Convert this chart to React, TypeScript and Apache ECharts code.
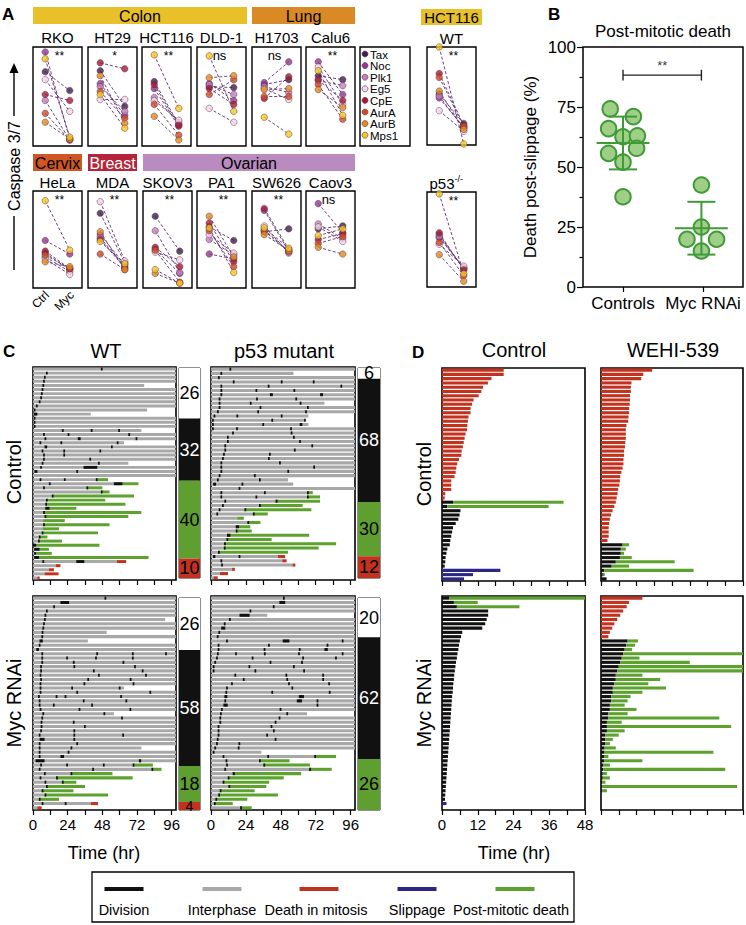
import React, { useEffect, useRef } from 'react';
import * as echarts from 'echarts';

const FONT = '"Liberation Sans", Arial, Helvetica, sans-serif';

// ---------------- Panel A data ----------------
const DRUGS = ['Tax', 'Noc', 'Plk1', 'Eg5', 'CpE', 'AurA', 'AurB', 'Mps1'];
const DRUG_COLORS = ['#3d1f4e', '#8e3b8e', '#c47fc0', '#f2d7ea', '#a51a35', '#d04a26', '#e38b1f', '#f6c81f'];
const A_LINES = ['RKO', 'HT29', 'HCT116', 'DLD-1', 'H1703', 'Calu6', 'WT', 'HeLa', 'MDA', 'SKOV3', 'PA1', 'SW626', 'Caov3', 'p53'];
const A_SIG = ['**', '*', '**', 'ns', 'ns', '**', '**', '**', '**', '**', '**', '**', 'ns', '**'];
// values per drug order Tax, Noc, Plk1, Eg5, CpE, AurA, AurB, Mps1 (relative caspase 3/7)
const A_CTRL = [
  [0.75, 0.95, 0.46, 0.67, 0.52, 0.33, 0.24, 0.88],
  [0.76, 0.63, 0.60, 0.47, 0.84, 0.55, 0.71, 0.52],
  [0.65, 0.58, 0.49, 0.46, 0.62, 0.42, 0.30, 0.92],
  [0.60, 0.63, 0.62, 0.38, 0.58, 0.52, 0.69, 0.91],
  [0.62, 0.64, 0.60, 0.58, 0.48, 0.50, 0.57, 0.29],
  [0.71, 0.85, 0.66, 0.80, 0.67, 0.62, 0.57, 0.76],
  [0.52, 0.48, 0.50, 0.35, 0.73, 0.69, 0.55, 1.00],
  [0.36, 0.49, 0.32, 0.30, 0.38, 0.34, 0.27, 0.90],
  [0.77, 0.55, 0.52, 0.89, 0.50, 0.35, 0.58, 0.48],
  [0.74, 0.40, 0.59, 0.37, 0.42, 0.39, 0.15, 0.19],
  [0.63, 0.35, 0.50, 0.55, 0.67, 0.59, 0.74, 0.62],
  [0.58, 0.80, 0.60, 0.64, 0.82, 0.59, 0.55, 0.62],
  [0.61, 0.87, 0.66, 0.63, 0.50, 0.46, 0.42, 0.54],
  [0.52, 0.55, 0.53, 0.45, 0.57, 0.47, 0.34, 0.98],
];
const A_MYC = [
  [0.56, 0.07, 0.06, 0.35, 0.46, 0.06, 0.07, 0.09],
  [0.40, 0.31, 0.35, 0.47, 0.78, 0.28, 0.23, 0.18],
  [0.22, 0.20, 0.24, 0.26, 0.21, 0.11, 0.06, 0.38],
  [0.59, 0.46, 0.52, 0.24, 0.42, 0.67, 0.71, 0.35],
  [0.67, 0.85, 0.54, 0.47, 0.70, 0.50, 0.58, 0.12],
  [0.67, 0.52, 0.61, 0.42, 0.46, 0.27, 0.39, 0.31],
  [0.22, 0.18, 0.17, 0.14, 0.20, 0.19, 0.16, 0.01],
  [0.19, 0.35, 0.17, 0.14, 0.20, 0.20, 0.22, 0.39],
  [0.26, 0.24, 0.22, 0.28, 0.21, 0.19, 0.19, 0.25],
  [0.38, 0.15, 0.16, 0.29, 0.22, 0.06, 0.05, 0.05],
  [0.49, 0.30, 0.34, 0.36, 0.27, 0.22, 0.32, 0.16],
  [0.61, 0.38, 0.38, 0.36, 0.40, 0.37, 0.39, 0.41],
  [0.64, 0.57, 0.51, 0.48, 0.56, 0.53, 0.35, 0.61],
  [0.20, 0.19, 0.20, 0.22, 0.18, 0.12, 0.06, 0.14],
];

// ---------------- Panel B data ----------------
const B_CATEGORIES = ['Controls', 'Myc RNAi'];
const B_CONTROLS = [[0.34, 74.2], [0.63, 71], [0.32, 66], [0.5, 62.6], [0.68, 63], [0.32, 55.7], [0.67, 57.8], [0.5, 52], [0.5, 37.6]];
const B_MYC = [[1.48, 42.5], [1.48, 25], [1.3, 19.9], [1.67, 19.9], [1.48, 15]];
const B_MEAN = [60, 24.5];
const B_SD_LOW = [49, 13.5];
const B_SD_HIGH = [71, 35.5];
const B_TICKS = [0, 25, 50, 75, 100];

// ---------------- Panel C data ----------------
// cell: [interphase end (h), fate (0 none, 1 post-mitotic death, 2 death in mitosis), fate end (h), division marks]
const C_WT_CTRL: any[] = [
  [99, 0, 0, [47]], [99, 0, 0, [9]], [99, 0, 0, [7.6]], [99, 0, 0, [7]], [77, 0, 0, [6.5]],
  [99, 0, 0, [6]], [99, 0, 0, [5.5]], [99, 0, 0, [5]], [99, 0, 0, [4]], [99, 0, 0, [2]],
  [79, 0, 0, [0.5]], [40, 0, 0, [[0.5, 2.5]]], [99, 0, 0, [0.5]], [99, 0, 0, [0.5]], [99, 0, 0, [0.5]],
  [75, 0, 0, [20, 40, 59]], [99, 0, 0, [7, 24, 66]], [99, 0, 0, [8, [31, 2], 71]], [63, 0, 0, [4.5, 19, 58]], [99, 0, 0, [[8, 1.8], 54]],
  [99, 0, 0, [6, 21, 46]], [99, 0, 0, [7, 21]], [99, 0, 0, [7, 39]], [66, 0, 0, [6, 45]], [99, 0, 0, [5, [35, 9.5]]],
  [99, 0, 0, [[1, 2], 30]], [99, 0, 0, []],
  [44, 1, 52, [4.6, 21.4, 43.5]], [62, 1, 73, [11, [56, 6]]], [37, 1, 48, [7, 37]], [47, 1, 53, [47]], [13, 1, 70, [13]],
  [9, 1, 50, [9]], [8.5, 1, 64, [8.5]], [11.5, 1, 30, [[8.5, 3]]], [7, 1, 75, [7]], [8, 1, 66, [8]],
  [7, 1, 22, []], [7, 1, 53, [7]], [6.5, 1, 18, []], [6, 1, 45, [6]], [4, 1, 10, [4]],
  [4.6, 1, 20, [[3.5, 1.2]]], [2, 1, 46, [[0, 2.2]]], [4.6, 1, 11, [[0.8, 3.8]]], [2, 1, 13, [0.8]], [4, 1, 80, [[0.8, 3.4]]],
  [58, 2, 64.5, [6.5, [30, 5.5]]], [15.7, 2, 19, []], [11, 2, 14.5, []], [8, 2, 17.7, []], [3, 2, 4.6, []],
];
const C_P53_CTRL: any[] = [
  [99, 0, 0, [12.7]], [56.7, 0, 0, [6.5]], [99, 0, 0, [4.8]], [99, 0, 0, [15, 48, 70]], [99, 0, 0, [6.5, 39, 89]],
  [99, 0, 0, [6.5, 30.6, 56.7]], [99, 0, 0, [6.5, [40.5, 2], [75, 2]]], [99, 0, 0, [5.3, 31, 58]], [78, 0, 0, [5.3, 26.7, 61]], [99, 0, 0, [5.3, 33.4, 66]],
  [99, 0, 0, [4.1, 31.8, 64.7]], [67, 0, 0, [1.8, 17.5, 48]], [64, 0, 0, [0.7, 41.5, 64]], [67, 0, 0, [0.7, 35.3, [61, 1.8]]], [99, 0, 0, [0.7, 17.3, 54.4]],
  [99, 0, 0, [14.5, 54.8]], [99, 0, 0, [11, 56.4]], [99, 0, 0, [11, 60.6]], [99, 0, 0, [9.2, 69]], [99, 0, 0, [9.2, 57]],
  [99, 0, 0, [8.3, 39.9]], [99, 0, 0, [7.6, 39.2]], [99, 0, 0, [6.5, 46.8]], [99, 0, 0, [6.5, 70.3]], [99, 0, 0, [6.5, 52.5]],
  [99, 0, 0, [5.3, 29.5]], [53, 0, 0, [4.1, 33]], [56.5, 0, 0, [[1.5, 2], 21]], [99, 0, 0, [19]],
  [66, 1, 70, [6.5, 36.4, 66]], [66, 1, 75, [6.5, 30.6, 66]], [44, 1, 75, [9.2, 44.5]], [33, 1, 63, [7.6, 33]], [23, 1, 69, [5.3, 23]],
  [29, 1, 39, [3.7, 28.8]], [18, 1, 22.6, []], [25, 1, 34, [25]], [19, 1, 27, [[17, 2.3]]], [17, 1, 28, [17]],
  [13, 1, 67.5, [[11, 2.3]]], [10.6, 1, 41.7, [10.6]], [9, 1, 86, [9]], [8.8, 1, 74, [8.8]], [4.8, 1, 53, [4.8]],
  [46, 2, 51, [[1.4, 1.6], 19]], [49, 2, 52, [6.5]], [56, 2, 58, [7]], [14.5, 2, 16.4, []], [6, 2, 11.7, []], [1.8, 2, 4.6, []],
];
const C_WT_MYC: any[] = [
  [99, 0, 0, [49.5]], [99, 0, 0, [[19, 6]]], [99, 0, 0, [14]], [99, 0, 0, [9]], [99, 0, 0, [8]],
  [91.5, 0, 0, [7.6]], [99, 0, 0, [7]], [99, 0, 0, [6.5]], [51, 0, 0, [6]], [99, 0, 0, [5.8]],
  [38, 0, 0, [[4.5, 2.3]]], [99, 0, 0, [4]], [99, 0, 0, [[2.3, 1.8]]], [99, 0, 0, [5.8, 43.8, 68.5, 91.5]], [99, 0, 0, [5.8, 23, 43, 68.5]],
  [99, 0, 0, [5.8, 27.6, 62]], [99, 0, 0, [5, 28, 70]], [99, 0, 0, [5, 41.5, 75.3]], [99, 0, 0, [4.6, 45, 77.6]], [99, 0, 0, [5, 37.6, 67]],
  [99, 0, 0, [4.6, 35, 69]], [63, 0, 0, [4.6, 26.5, 59.4]], [99, 0, 0, [4.6, 30, 80.6]], [99, 0, 0, [3.5, 15.7, 21.9, 60.4]], [99, 0, 0, [4, 34.5, 64]],
  [99, 0, 0, [4, 13.8, 40.3]], [99, 0, 0, [4.6, 31.6, 66.8]], [56, 0, 0, [6.5, 48.8]], [99, 0, 0, [5.8, 61]], [99, 0, 0, [5.3, 27.6]],
  [99, 0, 0, [5.3, 35.3]], [99, 0, 0, [5, 28]], [99, 0, 0, [4, 28, 61.8]], [99, 0, 0, [[4.6, 3.4], 28]], [99, 0, 0, [4, 30]],
  [75, 0, 0, [4, 26]], [99, 0, 0, [4, 24]], [99, 0, 0, [4, [19, 2.5]]], [99, 0, 0, [[1.8, 6.2], [73.3, 1.6]]],
  [69, 1, 83, [5, 23, 48.4, 69]], [82, 1, 89, [4, 41, 82]], [26, 1, 55, [7.6, 26]], [16, 1, 69, [4.6, 16]],
  [20, 1, 30, [8, 20]], [9, 1, 36, [9]], [6, 1, 28, [6]], [8, 1, 52, [8]], [4, 1, 18, [4]],
  [40, 2, 45, [6, 22]], [3, 2, 6, []],
];
const C_P53_MYC: any[] = [
  [99, 0, 0, [49.5]], [99, 0, 0, [[47, 4]]], [99, 0, 0, [42.5]], [99, 0, 0, [26.5]], [38.7, 0, 0, [[19.6, 6.9]]],
  [99, 0, 0, [12.4]], [99, 0, 0, [8.8]], [99, 0, 0, [[7, 2.8]]], [99, 0, 0, [5.1]], [99, 0, 0, [4]],
  [99, 0, 0, [10.4, [49.3, 4.6], 89.9]], [99, 0, 0, [4.6, 39.2, 79.5]], [99, 0, 0, [4.6, 36.2, 60.4, [78, 2.3]]], [99, 0, 0, [4.1, 16.6, 36.4, 59.9, 89.9]], [99, 0, 0, [3.5, 28, 62.7, 85.3]],
  [99, 0, 0, [2.3, 40.3, 62]], [99, 0, 0, [1.2, 25.8, 56.4]], [99, 0, 0, [1.2, 29.9, 63.4]], [99, 0, 0, [16.1, 51.2, 76.5]], [99, 0, 0, [21.9, 51.8, 76.5]],
  [99, 0, 0, [13.8, 53, 80.6]], [99, 0, 0, [10.4, 55.3]], [99, 0, 0, [9.9, 41.5, 81]], [99, 0, 0, [[9.2, 2], [60.4, 3.5]]], [99, 0, 0, [9.2, [59, 3.5], 72.6]],
  [99, 0, 0, [[8.5, 3], 72.6]], [99, 0, 0, [6.9, 47.2]], [66, 0, 0, [6.2, 51.8]], [99, 0, 0, [5.8, 46.5]], [99, 0, 0, [5.8, 43.8]],
  [99, 0, 0, [4.6, 41]], [99, 0, 0, [4.6, 42.6]], [99, 0, 0, [4.6, 38]], [99, 0, 0, [4, 43.8]], [99, 0, 0, [3.5, 18.9]],
  [99, 0, 0, [2.3, 18.4]], [34.6, 0, 0, [1.2]],
  [71, 1, 86, [8, 38.7, 71]], [33, 1, 54, [10, 33]], [36, 1, 68, [10.4, 36]], [67.5, 1, 83, [9.2, 67.5]], [16, 1, 62, [[14.9, 1.5]]],
  [11.5, 1, 50, [11.5]], [8, 1, 40, [8]], [12, 1, 38, [12]], [6, 1, 30, [6]], [5, 1, 46, [5]],
  [3, 1, 25, [3]], [2, 1, 15, [2]], [20, 1, 28, [20]],
];
const FRAC_WT_CTRL = [26, 32, 40, 10];
const FRAC_P53_CTRL = [6, 68, 30, 12];
const FRAC_WT_MYC = [26, 58, 18, 4];
const FRAC_P53_MYC = [20, 62, 26, 0];

// ---------------- Panel D data ----------------
// [kind (1 division, 3 death in mitosis, 4 slippage), mitosis end (h), post-mitotic death end (h)]
const D_CTRL_CTRL: any[] = [
  [3, 20.7], [3, 20.7], [3, 16.6], [3, 15.4], [3, 13.8], [3, 13.2], [3, 12.3], [3, 10.6], [3, 10.1], [3, 9.6],
  [3, 9.6], [3, 8.9], [3, 8.7], [3, 8.5], [3, 8.4], [3, 7.9], [3, 7.6], [3, 7.3], [3, 7.0], [3, 6.6],
  [3, 6.5], [3, 5.7], [3, 5.1], [3, 4.8], [3, 4.6], [3, 4.2], [3, 3.1], [3, 3.1], [3, 3.1], [3, 1.1], [3, 0.9],
  [1, 3.7, 40.8], [1, 1.8, 35.8],
  [1, 6.2], [1, 5.9], [1, 5.5], [1, 4.6], [1, 3.7], [1, 3.4], [1, 3.1], [1, 2.8], [1, 2.6], [1, 1.8],
  [1, 1.5], [1, 1.2], [1, 1.1], [1, 0.9],
  [4, 19.6], [4, 10.4], [4, 7.4],
];
const D_WEHI_CTRL: any[] = [
  [3, 17.3], [3, 14.3], [3, 13.6], [3, 10.3], [3, 10.1], [3, 10.1], [3, 9.8], [3, 9.8], [3, 9.7], [3, 9.5],
  [3, 9.5], [3, 9.3], [3, 9.2], [3, 8.6], [3, 8.4], [3, 8.4], [3, 8.4], [3, 8.2], [3, 8.1], [3, 7.8],
  [3, 7.8], [3, 7.6], [3, 7.6], [3, 7.3], [3, 6.9], [3, 6.5], [3, 6.4], [3, 6.2], [3, 5.8], [3, 5.6],
  [3, 5.3], [3, 5.0], [3, 4.5], [3, 3.9], [3, 3.4], [3, 3.0], [3, 2.8], [3, 2.6], [3, 2.6], [3, 2.6], [3, 2.2],
  [1, 7.3, 9.5], [1, 6.7, 8.4], [1, 6.7, 7.8], [1, 6.4, 10.4], [1, 5.0, 24.9], [1, 3.6, 9.5], [1, 1.1, 31.3], [1, 0.6, 1.3], [1, 1.9],
];
const D_CTRL_MYC: any[] = [
  [1, 2.5, 48], [1, 4, 12], [1, 5, 26], [1, 15.5], [1, 15.5], [1, 15], [1, 14.5], [1, 13.5], [1, 6.8], [1, 6.4],
  [1, 6], [1, 5.7], [1, 5.5], [1, 5.2], [1, 5], [1, 4.7], [1, 4.5], [1, 4.3], [1, 4.1], [1, 4],
  [1, 3.8], [1, 3.7], [1, 3.6], [1, 3.4], [1, 3.3], [1, 3.2], [1, 3.1], [1, 3], [1, 2.9], [1, 2.8],
  [1, 2.7], [1, 2.6], [1, 2.5], [1, 2.4], [1, 2.3], [1, 2.2], [1, 2.1], [1, 2], [1, 1.9], [1, 1.8],
  [1, 1.7], [1, 1.6], [1, 1.5], [1, 1.4], [1, 1.3], [1, 1.2], [1, 1.1], [1, 1], [4, 1.5],
];
const D_WEHI_MYC: any[] = [
  [3, 14], [3, 9.5], [3, 8.7], [3, 7.5], [3, 6.5], [3, 5.5], [3, 4.5], [3, 3.8], [3, 3], [3, 2.5],
  [1, 9, 12.5], [1, 8.5, 11.5], [1, 8, 10.5], [1, 7.5, 48], [1, 7, 13], [1, 6.5, 30], [1, 6, 48], [1, 5.5, 48], [1, 5, 14], [1, 5, 20],
  [1, 4.5, 16], [1, 4, 22], [1, 4, 14], [1, 3.5, 10], [1, 3.5, 9], [1, 3, 8], [1, 3, 12], [1, 2.5, 9], [1, 2.5, 40], [1, 2, 7],
  [1, 2, 44], [1, 2, 8], [1, 1.5, 6], [1, 1.5, 4], [1, 1.5, 3], [1, 1.2, 5], [1, 1.2, 38], [1, 1, 2.5], [1, 1, 14], [1, 0.8, 3],
  [1, 0.8, 42], [1, 0.6, 2], [1, 0.6, 3], [1, 0.5, 1.5], [1, 0.5, 46], [1, 0.4, 2],
];

const KIND_COLORS = ['#a8a8a8', '#111111', '#5da22f', '#c2321f', '#2c2787'];
const C_TICKS = [0, 12, 24, 36, 48, 60, 72, 84, 96];
const C_LABELS = [0, 24, 48, 72, 96];
const D_TICKS = [0, 6, 12, 18, 24, 30, 36, 42, 48];
const D_LABELS = [0, 12, 24, 36, 48];

const LEGEND_ITEMS = ['Division', 'Interphase', 'Death in mitosis', 'Slippage', 'Post-mitotic death'];
const LEGEND_KINDS = [1, 0, 3, 4, 2];

function buildC(cells: any[]) {
  const base: number[][] = [];
  const marks: number[][] = [];
  cells.forEach((c, i) => {
    const [ge, fate, fe, mk] = c;
    base.push([i, 0, ge, 0]);
    if (fate) base.push([i, ge, fe, fate === 1 ? 2 : 3]);
    (mk as any[]).forEach((m) => {
      const s = Array.isArray(m) ? m[0] : m;
      const d = Array.isArray(m) ? m[1] : 1.2;
      marks.push([i, s, s + d, 1]);
    });
  });
  return base.concat(marks);
}

function buildD(cells: any[]) {
  const out: number[][] = [];
  cells.forEach((c, i) => {
    out.push([i, 0, c[1], c[0]]);
    if (c[2] !== undefined) out.push([i, c[1], c[2], 2]);
  });
  return out;
}

const renderTimeline = (params: any, api: any) => {
  const row = api.value(0);
  const s = api.value(1);
  const e = api.value(2);
  const k = api.value(3);
  const a = api.coord([s, row]);
  const b = api.coord([e, row]);
  const h = api.size([0, 1])[1] * 0.72;
  return {
    type: 'rect',
    shape: { x: a[0], y: a[1] - h / 2, width: Math.max(b[0] - a[0], 1.3), height: h },
    style: { fill: KIND_COLORS[k] },
  };
};

function buildOption() {
  const grid: any[] = [];
  const xAxis: any[] = [];
  const yAxis: any[] = [];
  const series: any[] = [];
  const graphic: any[] = [];

  const addGrid = (r: number[], xa: any, ya: any, g: any = {}) => {
    const i = grid.length;
    grid.push({ left: r[0], top: r[1], width: r[2], height: r[3], show: true, borderColor: '#000', borderWidth: 1.2, backgroundColor: 'transparent', ...g });
    xAxis.push({ gridIndex: i, ...xa });
    yAxis.push({ gridIndex: i, ...ya });
    return i;
  };
  const txt = (x: number, y: number, text: string, size: number, o: any = {}) => {
    graphic.push({
      type: 'text', x, y, rotation: o.rot || 0, z: 100,
      style: {
        text, fill: o.color || '#000', fontSize: size, fontFamily: FONT, fontWeight: o.weight || 'normal',
        align: o.align || 'center', verticalAlign: o.va || 'middle', textAlign: o.align || 'center', textVerticalAlign: o.va || 'middle',
      },
    });
  };
  const rect = (x: number, y: number, w: number, h: number, fill: string, stroke?: string, lw = 1) => {
    graphic.push({ type: 'rect', shape: { x, y, width: w, height: h }, style: { fill, stroke: stroke || null, lineWidth: lw }, z: 90 });
  };
  const line = (x1: number, y1: number, x2: number, y2: number, color = '#000', lw = 1.3) => {
    graphic.push({ type: 'line', shape: { x1, y1, x2, y2 }, style: { stroke: color, lineWidth: lw }, z: 90 });
  };

  // ---------- Panel A ----------
  txt(2, 14, 'A', 17, { weight: 'bold', align: 'left' });
  const tissue = [
    ['Colon', 33, 7, 214, 17, '#e8c029', '#000'],
    ['Lung', 252, 7, 103, 17, '#d98a24', '#000'],
    ['HCT116', 421, 9, 61, 16, '#e8c029', '#000'],
    ['Cervix', 33, 154, 49, 17, '#cf5723', '#000'],
    ['Breast', 88, 154, 49, 17, '#b5243a', '#fff'],
    ['Ovarian', 143, 154, 212, 17, '#b98bbf', '#000'],
  ];
  tissue.forEach((t: any) => {
    rect(t[1], t[2], t[3], t[4], t[5]);
    txt(t[1] + t[3] / 2, t[2] + t[4] / 2 + 0.5, t[0], t[0] === 'HCT116' ? 15 : 16, { color: t[6] });
  });
  const A_RECTS = [
    [33, 47, 49, 99], [88, 47, 49, 99], [142, 47, 49, 99], [197, 47, 49, 99], [252, 47, 49, 99], [306, 47, 49, 99], [427, 47, 49, 98],
    [33, 191, 49, 97], [88, 191, 49, 97], [143, 191, 49, 97], [197, 191, 49, 97], [252, 191, 49, 97], [306, 191, 49, 97], [427, 192, 49, 95],
  ];
  A_LINES.forEach((name, p) => {
    const r = A_RECTS[p];
    const gi = addGrid(r, { type: 'value', min: -0.5, max: 1.5, show: false }, { type: 'value', min: 0, max: 1, show: false }, { borderWidth: 1.4 });
    DRUGS.forEach((d, di) => {
      series.push({
        type: 'line', xAxisIndex: gi, yAxisIndex: gi, data: [[0, A_CTRL[p][di]], [1, A_MYC[p][di]]],
        symbol: 'none', clip: false, silent: true, z: 3,
        lineStyle: { color: '#5b2c6f', width: 0.9, type: [3, 2] },
      });
    });
    const pts: any[] = [];
    DRUGS.forEach((d, di) => {
      pts.push({ value: [0, A_CTRL[p][di]], itemStyle: { color: DRUG_COLORS[di] } });
      pts.push({ value: [1, A_MYC[p][di]], itemStyle: { color: DRUG_COLORS[di] } });
    });
    series.push({
      type: 'scatter', xAxisIndex: gi, yAxisIndex: gi, data: pts, symbolSize: 6.5, clip: false, silent: true, z: 4,
      itemStyle: { borderColor: '#5a2f44', borderWidth: 0.6 },
    });
    const cx = r[0] + r[2] / 2;
    const top = r[1] < 100;
    if (name === 'p53') {
      txt(cx + 3, 183, 'p53', 15, { align: 'right' });
      txt(cx + 3, 179, '-/-', 9, { align: 'left' });
    } else {
      txt(cx, top ? (name === 'WT' ? 38 : 37) : 182, name, 15);
    }
    const sig = A_SIG[p];
    txt(cx + (sig === 'ns' ? -2 : 2), r[1] + (sig === 'ns' ? 8 : 9), sig, sig === 'ns' ? 13 : 12);
  });
  // legend of drugs
  rect(360, 47, 50, 99, 'none', '#000', 1.4);
  DRUGS.forEach((d, i) => {
    const y = 54 + i * 11.6;
    graphic.push({ type: 'circle', shape: { cx: 365, cy: y, r: 3 }, style: { fill: DRUG_COLORS[i], stroke: '#5a2f44', lineWidth: 0.6 }, z: 95 });
    txt(370, y + 0.5, d, 11.5, { align: 'left' });
  });
  // caspase axis label
  graphic.push({ type: 'polygon', shape: { points: [[14, 63], [9.5, 73], [18.5, 73]] }, style: { fill: '#000' }, z: 90 });
  line(14, 72, 14, 116, '#000', 1.4);
  txt(14, 166, 'Caspase 3/7', 16, { rot: Math.PI / 2 });
  line(14, 216, 14, 270, '#000', 1.4);
  txt(47, 293, 'Ctrl', 12, { rot: Math.PI / 4, align: 'right' });
  txt(72, 293, 'Myc', 12, { rot: Math.PI / 4, align: 'right' });

  // ---------- Panel B ----------
  txt(548, 14, 'B', 17, { weight: 'bold', align: 'left' });
  txt(663, 31, 'Post-mitotic death', 17);
  const gb = addGrid([583, 47, 160, 240],
    {
      type: 'value', min: 0, max: 2, axisLine: { show: false, onZero: false }, splitLine: { show: false },
      axisTick: { show: true, customValues: [0.5, 1.5], length: 5, lineStyle: { color: '#000', width: 1.2 } },
      axisLabel: { customValues: [0.5, 1.5], formatter: (v: number) => (v < 1 ? B_CATEGORIES[0] : B_CATEGORIES[1]), fontSize: 17, color: '#000', fontFamily: FONT, margin: 8 },
    },
    {
      type: 'value', min: 0, max: 100, interval: 25, axisLine: { show: false, onZero: false }, splitLine: { show: false },
      axisTick: { show: true, length: 6, lineStyle: { color: '#000', width: 1.2 }, customValues: B_TICKS },
      minorTick: { show: true, splitNumber: 2, length: 3.5, lineStyle: { color: '#000', width: 1.2 } },
      axisLabel: { fontSize: 17, color: '#000', fontFamily: FONT, margin: 7 },
      name: 'Death post-slippage (%)', nameLocation: 'middle', nameGap: 44, nameTextStyle: { fontSize: 17, color: '#000', fontFamily: FONT },
    },
    { borderWidth: 1.5 });
  series.push({
    type: 'scatter', xAxisIndex: gb, yAxisIndex: gb, data: B_CONTROLS.concat(B_MYC), symbolSize: 15.5, z: 3, silent: true,
    itemStyle: { color: '#9fcf86', borderColor: '#3f9a37', borderWidth: 2, opacity: 1 },
  });
  series.push({
    type: 'custom', xAxisIndex: gb, yAxisIndex: gb, z: 5, silent: true,
    data: [[0.5, B_MEAN[0], B_SD_LOW[0], B_SD_HIGH[0]], [1.48, B_MEAN[1], B_SD_LOW[1], B_SD_HIGH[1]]],
    renderItem: (params: any, api: any) => {
      const x = api.value(0);
      const m = api.coord([x, api.value(1)]);
      const lo = api.coord([x, api.value(2)]);
      const hi = api.coord([x, api.value(3)]);
      const half = api.size([0.33, 0])[0];
      const cap = api.size([0.175, 0])[0];
      const st = { stroke: '#3f9a37', lineWidth: 2 };
      return {
        type: 'group', children: [
          { type: 'line', shape: { x1: m[0] - half, y1: m[1], x2: m[0] + half, y2: m[1] }, style: st },
          { type: 'line', shape: { x1: lo[0], y1: lo[1], x2: hi[0], y2: hi[1] }, style: st },
          { type: 'line', shape: { x1: lo[0] - cap, y1: lo[1], x2: lo[0] + cap, y2: lo[1] }, style: st },
          { type: 'line', shape: { x1: hi[0] - cap, y1: hi[1], x2: hi[0] + cap, y2: hi[1] }, style: st },
        ],
      };
    },
  });
  series.push({
    type: 'line', xAxisIndex: gb, yAxisIndex: gb, symbol: 'none', silent: true, z: 5,
    data: [[0.5, 86], [0.5, 90.5], [0.5, 88.3], [1.48, 88.3], [1.48, 90.5], [1.48, 86]],
    lineStyle: { color: '#222', width: 1.4 },
  });
  series.push({
    type: 'scatter', xAxisIndex: gb, yAxisIndex: gb, symbolSize: 0, silent: true, data: [[0.99, 88.3]],
    label: { show: true, position: 'top', formatter: '**', fontSize: 13, color: '#000', distance: 3 },
  });

  // time axis template for panels C and D (labels only on the lower row)
  const timeAxis = (max: number, ticks: number[], labels: number[], showLabels: boolean) => ({
    type: 'value', min: 0, max, position: 'bottom', axisLine: { show: false, onZero: false }, splitLine: { show: false },
    axisTick: { show: true, customValues: ticks, length: 5, lineStyle: { color: '#000', width: 1.2 } },
    axisLabel: {
      show: true, customValues: labels, fontSize: 15, color: '#000', fontFamily: FONT, margin: 7,
      formatter: showLabels ? (v: number) => String(v) : () => '',
    },
  });

  // ---------- Panel C ----------
  txt(3, 351, 'C', 17, { weight: 'bold', align: 'left' });
  txt(106, 351, 'WT', 20);
  txt(284, 351, 'p53 mutant', 20);
  txt(14, 472, 'Control', 20, { rot: Math.PI / 2 });
  txt(14, 703, 'Myc RNAi', 20, { rot: Math.PI / 2 });
  txt(104, 853, 'Time (hr)', 18);
  const cPanels = [
    [C_WT_CTRL, [33, 367, 143, 213], false],
    [C_P53_CTRL, [211, 367, 144, 213], false],
    [C_WT_MYC, [33, 596, 143, 214], true],
    [C_P53_MYC, [211, 596, 144, 214], true],
  ];
  cPanels.forEach((cp: any) => {
    const cells = cp[0];
    const gi = addGrid(cp[1], timeAxis(99, C_TICKS, C_LABELS, cp[2]),
      { type: 'value', min: -0.5, max: cells.length - 0.5, inverse: true, show: false },
      { borderWidth: 1.6 });
    series.push({
      type: 'custom', xAxisIndex: gi, yAxisIndex: gi, silent: true, renderItem: renderTimeline,
      encode: { x: [1, 2], y: 0 }, data: buildC(cells), clip: true,
    });
  });
  const fracPanels = [
    [FRAC_WT_CTRL, [179, 368, 21, 210]],
    [FRAC_P53_CTRL, [358, 368, 22, 210]],
    [FRAC_WT_MYC, [179, 598, 21, 212]],
    [FRAC_P53_MYC, [358, 598, 22, 212]],
  ];
  const fracColors = ['#ffffff', '#111111', '#5f9f2f', '#c2321f'];
  const fracText = ['#000', '#fff', '#000', '#000'];
  fracPanels.forEach((fp: any, fi: number) => {
    const vals = fp[0];
    const sum = vals.reduce((a: number, b: number) => a + b, 0);
    const gi = addGrid(fp[1], { type: 'category', data: ['f'], show: false }, { type: 'value', min: 0, max: sum, inverse: true, show: false }, { borderWidth: 1, borderColor: '#222' });
    vals.forEach((v: number, k: number) => {
      series.push({
        type: 'bar', xAxisIndex: gi, yAxisIndex: gi, stack: 'frac' + fi, barWidth: '100%', silent: true, z: 1,
        data: [v], itemStyle: { color: fracColors[k] },
        label: { show: v > 0, position: 'inside', formatter: String(v), color: fracText[k], fontSize: v < 6 && k > 0 ? 14 : 18, fontFamily: FONT },
      });
    });
  });

  // ---------- Panel D ----------
  txt(412, 352, 'D', 17, { weight: 'bold', align: 'left' });
  txt(514, 350, 'Control', 20);
  txt(673, 350, 'WEHI-539', 20);
  txt(424, 474, 'Control', 20, { rot: Math.PI / 2 });
  txt(424, 703, 'Myc RNAi', 20, { rot: Math.PI / 2 });
  txt(514, 853, 'Time (hr)', 18);
  const dPanels = [
    [D_CTRL_CTRL, [442, 368, 143, 213], false],
    [D_WEHI_CTRL, [601, 368, 143, 213], false],
    [D_CTRL_MYC, [442, 596, 143, 214], true],
    [D_WEHI_MYC, [601, 596, 143, 214], false],
  ];
  dPanels.forEach((dp: any) => {
    const cells = dp[0];
    const gi = addGrid(dp[1], timeAxis(48, D_TICKS, D_LABELS, dp[2]),
      { type: 'value', min: -0.5, max: 49.5, inverse: true, show: false },
      { borderWidth: 1.6 });
    series.push({
      type: 'custom', xAxisIndex: gi, yAxisIndex: gi, silent: true, renderItem: renderTimeline,
      encode: { x: [1, 2], y: 0 }, data: buildD(cells), clip: true,
    });
  });

  // ---------- bottom legend ----------
  rect(92, 872, 482, 50, 'none', '#000', 1.3);
  const legX = [124, 222, 319, 417, 515];
  const labX = [124, 222, 316, 417, 511];
  LEGEND_ITEMS.forEach((name, i) => {
    graphic.push({ type: 'rect', shape: { x: legX[i] - 19.5, y: 887, width: 39, height: 4 }, style: { fill: KIND_COLORS[LEGEND_KINDS[i]] }, z: 95 });
    txt(labX[i], 910, name, 14.5);
  });

  return { animation: false, backgroundColor: '#fff', grid, xAxis, yAxis, series, graphic };
}

export default function App() {
  const ref = useRef<HTMLDivElement>(null);
  useEffect(() => {
    const chart = echarts.init(ref.current!, null, { renderer: 'svg' });
    chart.setOption(buildOption() as any);
    return () => chart.dispose();
  }, []);
  return <div ref={ref} style={{ position: 'absolute', left: 0, top: 0, width: 746, height: 925, background: '#fff' }} />;
}
